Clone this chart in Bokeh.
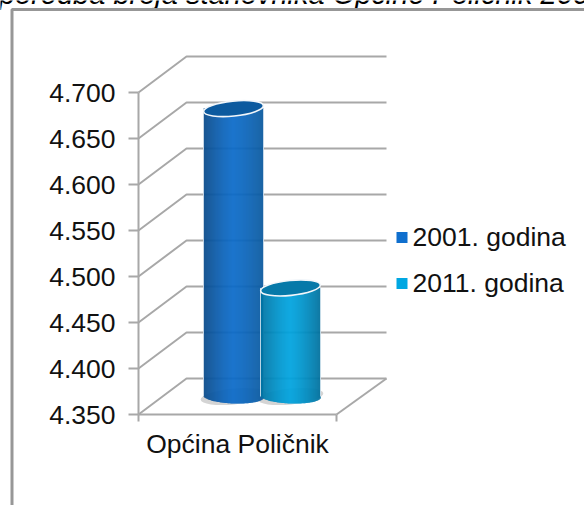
from bokeh.plotting import figure
from bokeh.models import Range1d, FixedTicker
from bokeh.core.properties import value
from bokeh.embed import file_html
from bokeh.resources import INLINE
import math

# ---- data
title_text = "Usporedba broja stanovnika Općine Poličnik 2001. i 2011. godine"
category = "Općina Poličnik"
series_names = ["2001. godina", "2011. godina"]
series_values = [4663, 4468]
y_ticks = [4350, 4400, 4450, 4500, 4550, 4600, 4650, 4700]
y_labels = ["4.350", "4.400", "4.450", "4.500", "4.550", "4.600", "4.650", "4.700"]

# ---- layout (x is in page pixels; y is in population units)
W, H = 584, 505
PX = 0.92                     # px per unit
Y_BOTTOM = 4350 - (H - 414) / PX
Y_TOP = 4350 + 414 / PX
def yp(px):                   # page pixel row -> y data
    return 4350 + (414 - px) / PX
DEPTH = 36 / PX
MID = 18 / PX                 # lift of the cylinders, standing at mid depth
AX_L, AX_R, BACK_L, BACK_R = 138, 336, 186, 386
FONT = "Liberation Sans"
GRID = "#a8a8a8"
TXT = "#111111"

p = figure(width=W, height=H, output_backend="svg", toolbar_location=None,
           x_range=Range1d(0, W), y_range=Range1d(Y_BOTTOM, Y_TOP),
           min_border=0, outline_line_color=None, background_fill_color="white",
           styles={"position": "absolute", "left": "0px", "top": "0px"})
p.grid.visible = False

ya = p.yaxis[0]
ya.fixed_location = AX_L
ya.ticker = FixedTicker(ticks=y_ticks)
ya.major_label_overrides = dict(zip(y_ticks, y_labels))
ya.major_label_text_font = FONT
ya.major_label_text_font_size = "26.5px"
ya.major_label_text_color = TXT
ya.major_label_standoff = 13
ya.axis_line_color = GRID
ya.axis_line_width = 2
ya.major_tick_line_color = GRID
ya.major_tick_line_width = 2
ya.major_tick_in = 0
ya.major_tick_out = 10
ya.minor_tick_line_color = None
ya.bounds = (4350, 4700)

xa = p.xaxis[0]
xa.fixed_location = 4350
xa.ticker = FixedTicker(ticks=[AX_L, AX_R])
xa.major_label_overrides = {AX_L: "", AX_R: ""}
xa.axis_line_color = GRID
xa.axis_line_width = 2
xa.major_tick_line_color = GRID
xa.major_tick_line_width = 2
xa.major_tick_in = 0
xa.major_tick_out = 7
xa.minor_tick_line_color = None
xa.bounds = (AX_L, AX_R)

# title, cut off by the top of the image
p.text([-37], [yp(-7)], text=[title_text], text_font=value("Liberation Sans"),
       text_font_size="29px", text_font_style="italic", text_color="#000000",
       text_baseline="alphabetic")

# outer chart frame
p.line([11.5, 11.5, W], [yp(H), yp(9), yp(9)], line_color="#979797", line_width=3)

xs = [[AX_L, BACK_L, BACK_R] for _ in y_ticks]
ys = [[t, t + DEPTH, t + DEPTH] for t in y_ticks]
p.multi_line(xs, ys, line_color=GRID, line_width=2)
p.line([AX_R, BACK_R], [4350, 4350 + DEPTH], line_color=GRID, line_width=2)


def mix(a, b, t):
    ca = [int(a[i:i + 2], 16) for i in (1, 3, 5)]
    cb = [int(b[i:i + 2], 16) for i in (1, 3, 5)]
    return "#%02x%02x%02x" % tuple(round(u + (v - u) * t) for u, v in zip(ca, cb))


CYLS = [
    (233, 30, "#0a4a88", "#0d6bc8", "#0b5a9e"),
    (290, 30, "#00719f", "#00a3de", "#00709d"),
]
RY, TILT = 7.0, 0.10
BASE = 4350 + MID
TOPS = {0: "#0c5a9f", 1: "#0679a9"}

for cx, rx, *_ in CYLS:
    p.ellipse([cx], [BASE], width=2 * rx + 6, height=2 * RY + 2, width_units="screen",
              height_units="screen", fill_color="#d4d4d4", line_color=None, angle=TILT)

for i, ((cx, rx, edge, mid, edge2), v) in enumerate(zip(CYLS, series_values)):
    top = v + MID
    sx, st, sb, sc = [], [], [], []
    for k in range(2 * rx):
        xk = cx - rx + k + 0.5
        u = (xk - cx) / rx
        arc = RY * math.sqrt(max(0, 1 - u * u))
        skew = -u * rx * math.tan(TILT) * 0.35
        sx.append(xk)
        st.append(top)
        sb.append(BASE - (arc - skew) / PX)
        sc.append(mix(mid, edge if u < 0 else edge2, abs(u) ** 1.3))
    p.vbar(x=sx, width=1.5, top=st, bottom=sb, fill_color=sc, fill_alpha=1.0, line_color=None)
    p.line([cx - rx, cx - rx], [BASE, top], line_color="#e6eef5", line_width=1, line_alpha=0.8)
    p.line([cx + rx, cx + rx], [BASE, top], line_color="#e6eef5", line_width=1, line_alpha=0.8)
    p.ellipse([cx], [top], width=2 * rx, height=2 * RY + 1, width_units="screen",
              height_units="screen", angle=TILT, fill_color=TOPS[i],
              line_color="#f2f6fa", line_width=1.6)

p.text([237], [yp(443)], text=[category], text_font=value(FONT), text_font_size="26.5px",
       text_color=TXT, text_align="center", text_baseline="middle")

LEG_COL = ["#0f6fce", "#00a7e2"]
for name, col, ypx in zip(series_names, LEG_COL, [236, 282]):
    p.scatter([401.5], [yp(ypx + 1)], marker="square", size=11, fill_color=col, line_color=None)
    p.text([412], [yp(ypx)], text=[name], text_font=value(FONT), text_font_size="26.5px",
           text_color=TXT, text_align="left", text_baseline="middle")

open("out.html", "w").write(file_html(p, INLINE))
